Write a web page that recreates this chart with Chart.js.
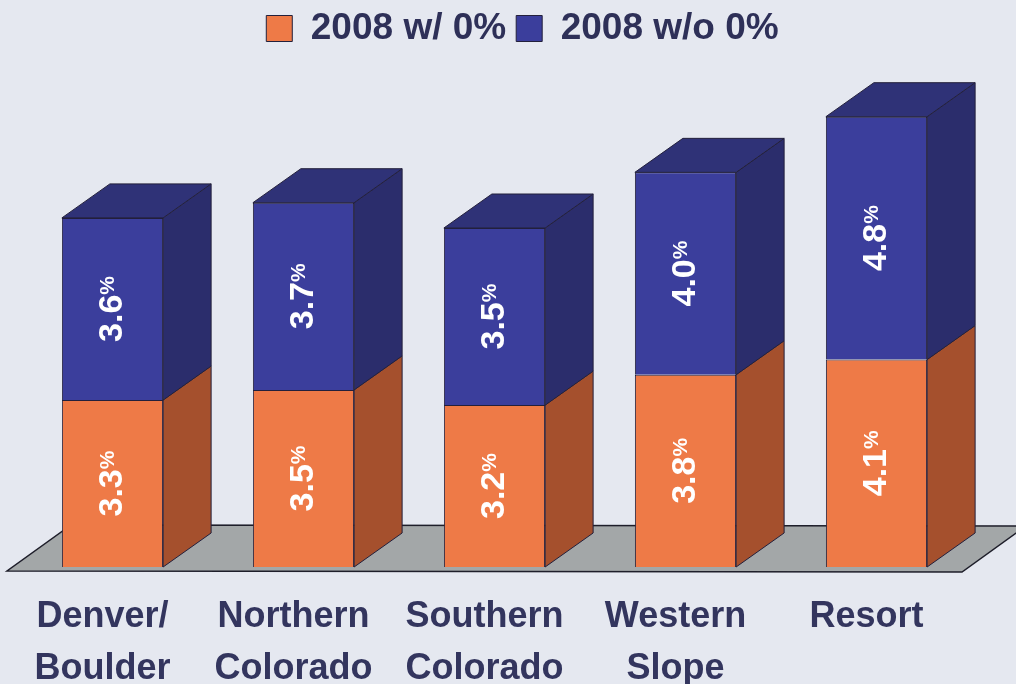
<!DOCTYPE html>
<html>
<head>
<meta charset="utf-8">
<script src="https://cdn.jsdelivr.net/npm/chart.js@4"></script>
<style>
  body { margin: 0; background: #e5e8f0; }
  #wrap { width: 1016px; height: 684px; position: relative; }
</style>
</head>
<body>
<div id="wrap"><canvas id="chart"></canvas></div>
<script>
"use strict";

// data
const regions = [["Denver/", "Boulder"], ["Northern", "Colorado"], ["Southern", "Colorado"], ["Western", "Slope"], ["Resort"]];
const withZero = [3.3, 3.5, 3.2, 3.8, 4.1];
const withoutZero = [3.6, 3.7, 3.5, 4.0, 4.8];
const seriesNames = ["2008 w/ 0%", "2008 w/o 0%"];

const frontColors = ["#ee7a47", "#3b3e9c"];
const sideColors = ["#a5502d", "#2b2d6c"];
const topColors = ["#c4643a", "#2f3277"];
const edge = "#23203c";
const depthX = 48, depthY = 34;
const fontFam = "'Liberation Sans', Arial, sans-serif";

Chart.defaults.font.family = fontFam;

// gray floor under the bars
const floorPlugin = {
    id: "floor",
    beforeDatasetsDraw(chart) {
        const ctx = chart.ctx;
        const y0 = chart.scales.y.getPixelForValue(0);
        const left = chart.chartArea.left - 10;
        const right = chart.chartArea.right - 10;
        ctx.save();
        ctx.beginPath();
        ctx.moveTo(left, y0 + 4);
        ctx.lineTo(right, y0 + 5);
        ctx.lineTo(right + 64, y0 - 41);
        ctx.lineTo(left + 64, y0 - 42);
        ctx.closePath();
        ctx.fillStyle = "#a3a7a8";
        ctx.fill();
        ctx.strokeStyle = "#1e1e2a";
        ctx.lineWidth = 1.5;
        ctx.stroke();
        ctx.restore();
    }
};

// side + top faces and the rotated value labels
const boxPlugin = {
    id: "box3d",
    afterDatasetsDraw(chart) {
        const ctx = chart.ctx;
        const last = chart.data.datasets.length - 1;
        ctx.save();
        ctx.lineWidth = 1;
        ctx.strokeStyle = edge;
        chart.data.datasets.forEach((ds, i) => {
            const meta = chart.getDatasetMeta(i);
            meta.data.forEach((bar, j) => {
                const p = bar.getProps(["x", "y", "base", "width"], true);
                const l = p.x - p.width / 2, r = p.x + p.width / 2;
                ctx.beginPath();
                ctx.moveTo(r, p.y);
                ctx.lineTo(r + depthX, p.y - depthY);
                ctx.lineTo(r + depthX, p.base - depthY);
                ctx.lineTo(r, p.base);
                ctx.closePath();
                ctx.fillStyle = sideColors[i];
                ctx.fill();
                ctx.stroke();
                if (i === last) {
                    ctx.beginPath();
                    ctx.moveTo(l, p.y);
                    ctx.lineTo(l + depthX, p.y - depthY);
                    ctx.lineTo(r + depthX, p.y - depthY);
                    ctx.lineTo(r, p.y);
                    ctx.closePath();
                    ctx.fillStyle = topColors[i];
                    ctx.fill();
                    ctx.stroke();
                }
                // value label, turned on its side
                const num = ds.data[j].toFixed(1);
                ctx.save();
                ctx.translate(p.x, (p.y + p.base) / 2);
                ctx.rotate(-Math.PI / 2);
                ctx.fillStyle = "#ffffff";
                ctx.textBaseline = "middle";
                ctx.textAlign = "left";
                ctx.font = "bold 34px " + fontFam;
                const w1 = ctx.measureText(num).width;
                ctx.font = "bold 21px " + fontFam;
                const w2 = ctx.measureText("%").width;
                const start = -(w1 + w2) / 2;
                ctx.font = "bold 34px " + fontFam;
                ctx.fillText(num, start, 0);
                ctx.font = "bold 21px " + fontFam;
                ctx.fillText("%", start + w1, -4);
                ctx.restore();
            });
        });
        ctx.restore();
    }
};

// nudge legend a bit right, like the original
const legendShift = {
    id: "legendShift",
    afterLayout(chart) {
        chart.legend.left += 28;
        chart.legend.right += 28;
    }
};

new Chart(document.getElementById("chart"), {
    type: "bar",
    data: {
        labels: regions,
        datasets: [
            {
                label: seriesNames[0],
                data: withZero,
                backgroundColor: frontColors[0],
                borderColor: edge,
                borderWidth: 1
            },
            {
                label: seriesNames[1],
                data: withoutZero,
                backgroundColor: frontColors[1],
                borderColor: edge,
                borderWidth: 1
            }
        ]
    },
    options: {
        responsive: true,
        maintainAspectRatio: false,
        animation: false,
        layout: {
            padding: { left: 17, right: 44, top: 0, bottom: 0 }
        },
        datasets: {
            bar: { categoryPercentage: 1, barPercentage: 0.53 }
        },
        scales: {
            x: {
                stacked: true,
                grid: { display: false, drawTicks: false },
                border: { display: false },
                ticks: {
                    color: "#33355e",
                    font: { size: 36, weight: "bold", lineHeight: 1.45 },
                    padding: 24,
                    labelOffset: -10,
                    maxRotation: 0,
                    autoSkip: false
                },
                afterFit(scale) { scale.height = 117; }
            },
            y: {
                stacked: true,
                display: false,
                min: 0,
                max: 10.08
            }
        },
        plugins: {
            legend: {
                position: "top",
                labels: {
                    color: "#2e3058",
                    font: { size: 37, weight: "bold" },
                    boxWidth: 26,
                    boxHeight: 26,
                    padding: 10
                }
            },
            tooltip: { enabled: false }
        }
    },
    plugins: [floorPlugin, boxPlugin, legendShift]
});
</script>
</body>
</html>
